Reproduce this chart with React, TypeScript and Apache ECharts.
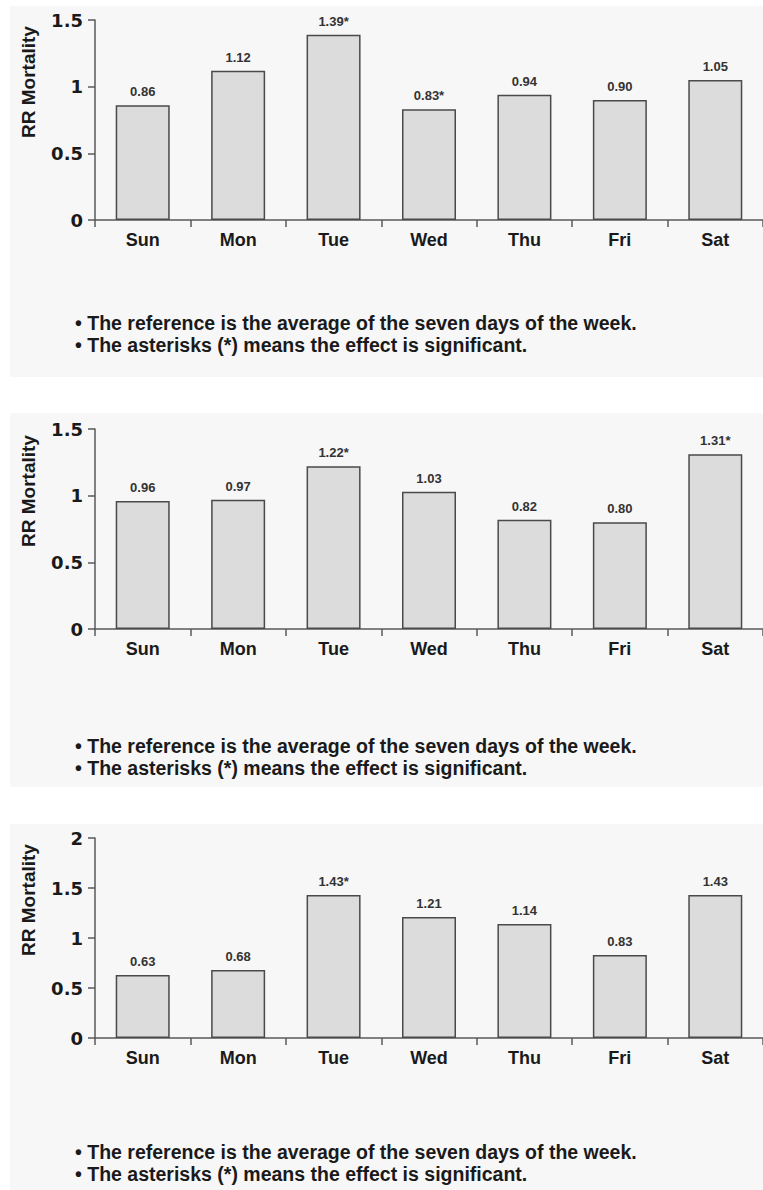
import React, { useEffect, useRef } from "react";
import * as echarts from "echarts";

const days = ["Sun", "Mon", "Tue", "Wed", "Thu", "Fri", "Sat"];

const rr1 = [0.86, 1.12, 1.39, 0.83, 0.94, 0.9, 1.05];
const sig1 = [false, false, true, true, false, false, false];

const rr2 = [0.96, 0.97, 1.22, 1.03, 0.82, 0.8, 1.31];
const sig2 = [false, false, true, false, false, false, true];

const rr3 = [0.63, 0.68, 1.43, 1.21, 1.14, 0.83, 1.43];
const sig3 = [false, false, true, false, false, false, false];

const yMax = [1.5, 1.5, 2];
const yTitle = "RR Mortality";
const notes = [
  "• The reference is the average of the seven days of the week.",
  "• The asterisks (*) means the effect is significant.",
];

const W = 763;
const H = 1190;

export default function App() {
  const ref = useRef<HTMLDivElement>(null);
  useEffect(() => {
    document.body.style.margin = "0";
    if (!ref.current) return;
    const chart = echarts.init(ref.current, null, { renderer: "svg", width: W, height: H });

    const panels = [
      { vals: rr1, sig: sig1, bgTop: 6, bgH: 371, top: 20, noteY: [323, 345] },
      { vals: rr2, sig: sig2, bgTop: 413, bgH: 374, top: 429, noteY: [746, 768] },
      { vals: rr3, sig: sig3, bgTop: 824, bgH: 366, top: 838, noteY: [1152, 1174] },
    ];
    const axisColor = "#5a5a5a";
    const textColor = "#1a1a1a";

    const graphic: any[] = [];
    panels.forEach((p) => {
      graphic.push({
        type: "rect",
        z: -10,
        shape: { x: 10, y: p.bgTop, width: W - 10, height: p.bgH },
        style: { fill: "#f7f7f7" },
      });
      graphic.push({
        type: "text",
        x: 28,
        y: p.top + 62,
        rotation: Math.PI / 2,
        style: {
          text: yTitle,
          fontFamily: "'Liberation Sans', Arial, sans-serif",
          fontWeight: "bold",
          fontSize: 19,
          fill: textColor,
          align: "center",
          verticalAlign: "middle",
        },
      });
      notes.forEach((n, i) => {
        graphic.push({
          type: "text",
          x: 75,
          y: p.noteY[i],
          style: {
            text: n,
            fontFamily: "'Liberation Sans Narrow', 'Liberation Sans', Arial, sans-serif",
            fontWeight: "bold",
            fontSize: 19.5,
            fill: textColor,
            align: "left",
            verticalAlign: "middle",
          },
        });
      });
    });

    const option: any = {
      animation: false,
      backgroundColor: "#ffffff",
      grid: panels.map((p) => ({ left: 95, top: p.top, width: 672, height: 200, containLabel: false })),
      xAxis: panels.map((_, i) => ({
        type: "category",
        gridIndex: i,
        data: days,
        axisLine: { lineStyle: { color: axisColor, width: 1.5 } },
        axisTick: { show: true, length: 7, lineStyle: { color: axisColor, width: 1.5 } },
        axisLabel: {
          margin: 11,
          color: textColor,
          fontSize: 18,
          fontWeight: "bold",
          fontFamily: "'Liberation Sans', Arial, sans-serif",
        },
      })),
      yAxis: panels.map((_, i) => ({
        type: "value",
        gridIndex: i,
        min: 0,
        max: yMax[i],
        interval: 0.5,
        splitLine: { show: false },
        axisLine: { show: true, lineStyle: { color: axisColor, width: 1.5 } },
        axisTick: { show: true, length: 7, lineStyle: { color: axisColor, width: 1.5 } },
        axisLabel: {
          margin: 12,
          color: textColor,
          fontSize: 18,
          fontWeight: "bold",
          fontFamily: "'DejaVu Sans', sans-serif",
        },
      })),
      series: panels.map((p, i) => ({
        type: "bar",
        xAxisIndex: i,
        yAxisIndex: i,
        data: p.vals,
        barWidth: 54,
        itemStyle: { color: "#dcdcdc", borderColor: "#4a4a4a", borderWidth: 1.5 },
        label: {
          show: true,
          position: "top",
          distance: 7,
          color: "#333",
          fontSize: 13,
          fontWeight: "bold",
          fontFamily: "'Liberation Sans', Arial, sans-serif",
          formatter: (d: any) => d.value.toFixed(2) + (p.sig[d.dataIndex] ? "*" : ""),
        },
      })),
      graphic,
    };
    chart.setOption(option);
    return () => chart.dispose();
  }, []);
  return <div ref={ref} style={{ width: W, height: H }} />;
}
